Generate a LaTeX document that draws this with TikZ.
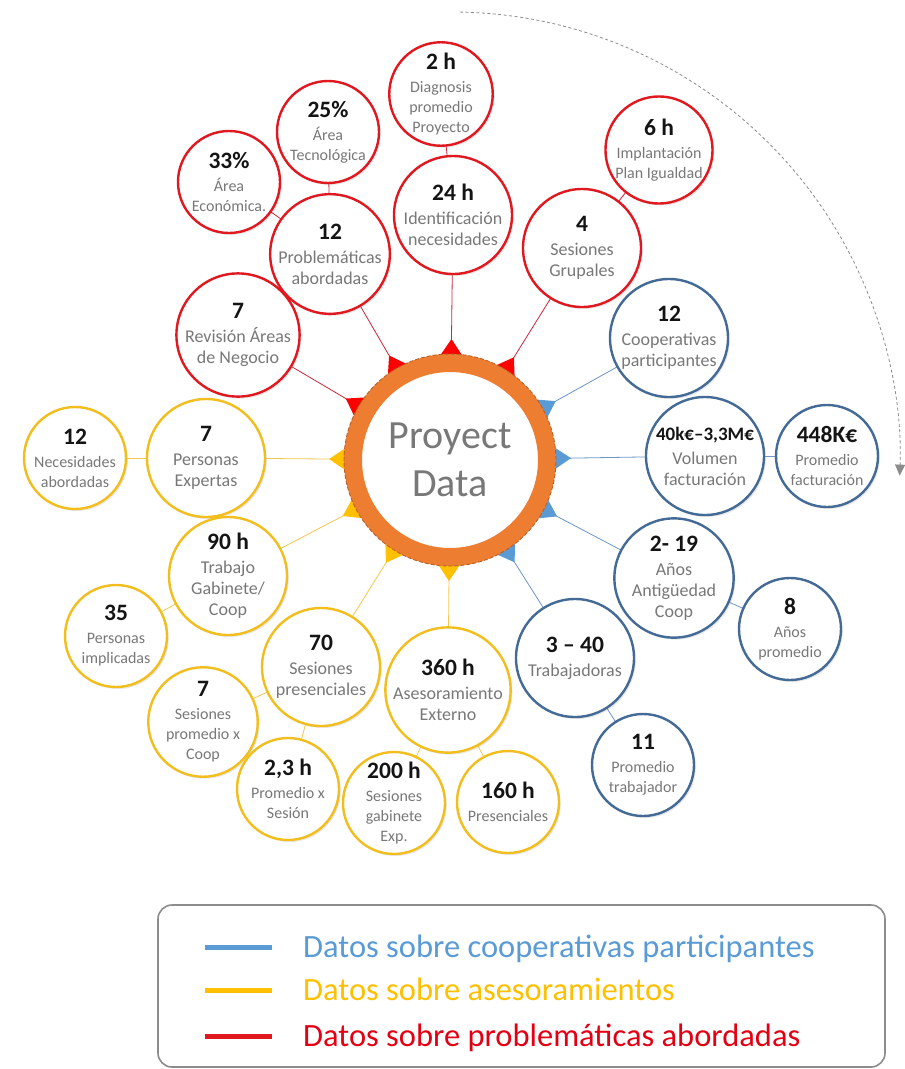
\documentclass[tikz,border=0pt]{standalone}
\usepackage{fontspec}
\setmainfont{Carlito}
\usetikzlibrary{calc,shadows,arrows.meta}
\pgfdeclarelayer{bgfill}
\pgfdeclarelayer{background}
\pgfsetlayers{bgfill,background,main}
\definecolor{redc}{RGB}{224,24,32}
\definecolor{redl}{RGB}{200,40,60}
\definecolor{redt}{RGB}{255,0,0}
\definecolor{bluec}{RGB}{68,106,150}
\definecolor{bluel}{RGB}{110,150,200}
\definecolor{bluet}{RGB}{91,155,213}
\definecolor{yelc}{RGB}{242,190,30}
\definecolor{yell}{RGB}{242,200,80}
\definecolor{yelt}{RGB}{255,192,0}
\definecolor{orangec}{RGB}{237,125,49}
\definecolor{brownc}{RGB}{185,98,40}
\definecolor{lblgray}{RGB}{120,120,120}
\definecolor{numc}{RGB}{20,20,20}
\definecolor{leggray}{RGB}{140,140,140}
\definecolor{legblue}{RGB}{91,155,213}
\definecolor{legyel}{RGB}{255,192,0}
\definecolor{legred}{RGB}{228,0,20}
\newcommand{\cnum}{\fontsize{23.5}{26}\selectfont\bfseries\color{numc}}
\newcommand{\cnumsm}{\fontsize{19}{22}\selectfont\bfseries\color{numc}}
\newcommand{\cbigfont}{\fontsize{18}{21}\selectfont}
\newcommand{\csmallfont}{\fontsize{16}{20}\selectfont}
\newcommand{\spoke}[2]{%
  \draw[#2line] (c.center) -- (#1.center);
  \fill[#2tri] ($(c.center)!100pt!8.5:(#1.center)$) -- ($(c.center)!121pt!(#1.center)$) -- ($(c.center)!100pt!-8.5:(#1.center)$) -- cycle;}
\tikzset{
  cbase/.style={circle, fill=white, inner sep=0pt, align=center, text=lblgray,
    drop shadow={opacity=0.18, shadow xshift=1.8pt, shadow yshift=-2pt}},
  big/.style={cbase, minimum size=118pt, font=\cbigfont},
  small/.style={cbase, minimum size=102pt, font=\csmallfont},
  rc/.style={draw=redc, line width=2.4pt},
  bc/.style={draw=bluec, line width=2.4pt},
  yc/.style={draw=yelc, line width=2.4pt},
  redline/.style={draw=redl, line width=0.8pt},
  blueline/.style={draw=bluel, line width=0.8pt},
  yelline/.style={draw=yell, line width=0.8pt},
  redtri/.style={fill=redt},
  bluetri/.style={fill=bluet},
  yeltri/.style={fill=yelt},
  legtext/.style={anchor=base west, font=\fontsize{32.5}{36}\selectfont, inner sep=0pt},
  legline/.style={line width=5pt}
}
\begin{document}
\begin{tikzpicture}[x=1pt,y=-1pt]
\useasboundingbox (0,0) rectangle (905,1069);
\begin{pgfonlayer}{bgfill}
\fill[white] (0,0) rectangle (905,1069);
\end{pgfonlayer}

% dashed arc
\draw[leggray, line width=0.8pt, dash pattern=on 3pt off 2.5pt, -{Triangle[length=11pt,width=10pt]}]
  (452,460) ++(-89:448) arc[start angle=-89, end angle=2, radius=448];

% centre
\node[circle, minimum size=194pt, line width=18pt, draw=orangec, fill=white, inner sep=0pt,
  font=\fontsize{40}{48}\selectfont, text=lblgray, align=center] (c) at (450,460) {Proyect\\Data};
\draw[brownc, dash pattern=on 4pt off 2pt, line width=0.9pt] (c.center) circle[radius=106pt];

% red
\node[big,rc] (rev) at (238,335) {{\cnum 7}\\[3pt]Revisión Áreas\\de Negocio};
\node[big,rc] (prob) at (330,254) {{\cnum 12}\\[3pt]Problemáticas\\abordadas};
\node[small,rc] (econ) at (229,182) {{\cnum 33\%}\\[3pt]Área\\Económica.};
\node[small,rc] (tec) at (328,132) {{\cnum 25\%}\\[3pt]Área\\Tecnológica};
\node[big,rc] (ident) at (453,215) {{\cnum 24 h}\\[3pt]Identificación\\necesidades};
\node[small,rc] (diag) at (441,94) {{\cnum 2 h}\\[3pt]Diagnosis\\promedio\\Proyecto};
\node[big,rc] (grup) at (582,248) {{\cnum 4}\\[3pt]Sesiones\\Grupales};
\node[small,rc] (impl) at (659,150) {{\cnum 6 h}\\[3pt]Implantación\\Plan Igualdad};

% blue
\node[big,bc] (coop) at (669,338) {{\cnum 12}\\[3pt]Cooperativas\\participantes};
\node[big,bc] (vol) at (705,456) {{\cnumsm 40k€–3,3M€}\\[3pt]Volumen\\facturación};
\node[small,bc] (promf) at (827,456) {{\cnum 448K€}\\[3pt]Promedio\\facturación};
\node[big,bc] (anti) at (674,578) {{\cnum 2- 19}\\[3pt]Años\\Antigüedad\\Coop};
\node[small,bc] (anos) at (790,629) {{\cnum 8}\\[3pt]Años\\promedio};
\node[big,bc] (trab) at (575,658) {{\cnum 3 – 40}\\[3pt]Trabajadoras};
\node[small,bc] (ptrab) at (643,765) {{\cnum 11}\\[3pt]Promedio\\trabajador};

% yellow
\node[small,yc] (nec) at (75,458) {{\cnum 12}\\[3pt]Necesidades\\abordadas};
\node[big,yc] (exp) at (206,458) {{\cnum 7}\\[3pt]Personas\\Expertas};
\node[big,yc] (gab) at (228,576) {{\cnum 90 h}\\[3pt]Trabajo\\Gabinete/\\Coop};
\node[small,yc] (pimp) at (116,636) {{\cnum 35}\\[3pt]Personas\\implicadas};
\node[big,yc] (pres) at (321,667) {{\cnum 70}\\[3pt]Sesiones\\presenciales};
\node[small,yc] (spc) at (203,722) {{\cnum 7}\\[3pt]Sesiones\\promedio x\\Coop};
\node[big,yc] (ases) at (448,690) {{\cnum 360 h}\\[3pt]Asesoramiento\\Externo};
\node[small,yc] (psess) at (288,789) {{\cnum 2,3 h}\\[3pt]Promedio x\\Sesión};
\node[small,yc] (gabexp) at (394,803) {{\cnum 200 h}\\[3pt]Sesiones\\gabinete\\Exp.};
\node[small,yc] (presh) at (508,802) {{\cnum 160 h}\\[3pt]Presenciales};

\begin{pgfonlayer}{background}
  \spoke{rev}{red}
  \spoke{prob}{red}
  \spoke{ident}{red}
  \spoke{grup}{red}
  \spoke{coop}{blue}
  \spoke{vol}{blue}
  \spoke{anti}{blue}
  \spoke{trab}{blue}
  \spoke{exp}{yel}
  \spoke{gab}{yel}
  \spoke{pres}{yel}
  \spoke{ases}{yel}
  \draw[redline] (diag.center) -- (ident.center);
  \draw[redline] (tec.center) -- (prob.center);
  \draw[redline] (econ.center) -- (prob.center);
  \draw[redline] (impl.center) -- (grup.center);
  \draw[blueline] (promf.center) -- (vol.center);
  \draw[blueline] (anos.center) -- (anti.center);
  \draw[blueline] (ptrab.center) -- (trab.center);
  \draw[yelline] (nec.center) -- (exp.center);
  \draw[yelline] (pimp.center) -- (gab.center);
  \draw[yelline] (spc.center) -- (pres.center);
  \draw[yelline] (psess.center) -- (pres.center);
  \draw[yelline] (gabexp.center) -- (ases.center);
  \draw[yelline] (presh.center) -- (ases.center);
\end{pgfonlayer}

% legend
\draw[leggray, line width=1.6pt, rounded corners=14pt] (158,905) rectangle (885,1067);
\draw[legline, bluet] (205,947) -- (272,947);
\draw[legline, yelt] (205,990) -- (272,990);
\draw[legline, redc] (205,1036) -- (272,1036);
\node[legtext, text=legblue] (lg1) at (303,957) {Datos sobre cooperativas participantes};
\node[legtext, text=legyel] (lg2) at (303,1000) {Datos sobre asesoramientos};
\node[legtext, text=legred] (lg3) at (303,1046) {Datos sobre problemáticas abordadas};
\end{tikzpicture}
\end{document}
